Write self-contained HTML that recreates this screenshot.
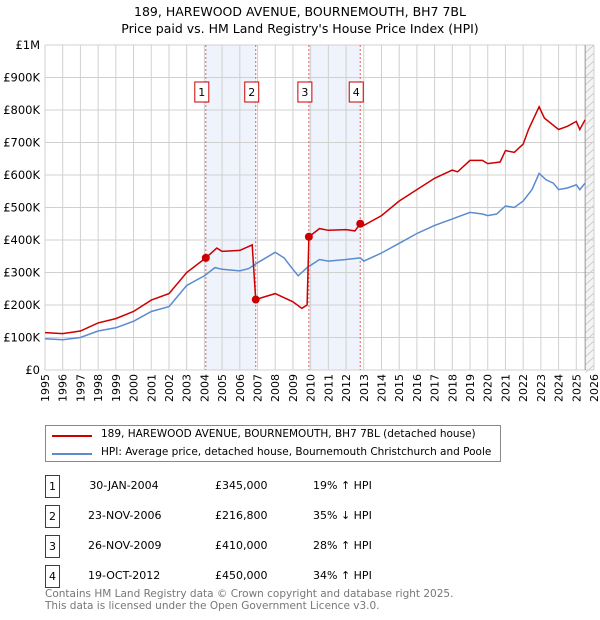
<!DOCTYPE html>
<html><head><meta charset="utf-8"><style>
body{margin:0;background:#fff;font-family:"DejaVu Sans","Liberation Sans",sans-serif;}
#wrap{position:relative;width:600px;height:620px;overflow:hidden}
.t{position:absolute;white-space:nowrap;color:#000}
</style></head><body><div id="wrap">
<div class="t" style="left:0;width:600px;top:3px;text-align:center;font-size:12.5px;line-height:17px">189, HAREWOOD AVENUE, BOURNEMOUTH, BH7 7BL<br>Price paid vs. HM Land Registry's House Price Index (HPI)</div>
<svg id="svg" width="600" height="420" style="position:absolute;left:0;top:0"></svg>
<div style="position:absolute;left:45px;top:425px;width:454px;height:35px;border:1px solid #888;font-size:10.5px">
<div style="position:absolute;left:6px;top:9px;width:40px;height:2px;background:#cc0000"></div>
<div class="t" style="left:55px;top:2px">189, HAREWOOD AVENUE, BOURNEMOUTH, BH7 7BL (detached house)</div>
<div style="position:absolute;left:6px;top:27px;width:40px;height:2px;background:#5b8bd0"></div>
<div class="t" style="left:55px;top:20px">HPI: Average price, detached house, Bournemouth Christchurch and Poole</div>
</div>
<div id="tbl"></div>
<div class="t" style="left:45px;top:589px;font-size:10.5px;line-height:11.5px;color:#777">Contains HM Land Registry data © Crown copyright and database right 2025.<br>This data is licensed under the Open Government Licence v3.0.</div>
</div>
<script>
const saleYears=[2004.08,2006.9,2009.9,2012.8];
const saleValues=[345,216.8,410,450];
const saleDates=["30-JAN-2004","23-NOV-2006","26-NOV-2009","19-OCT-2012"];
const salePrices=["£345,000","£216,800","£410,000","£450,000"];
const saleHpi=["19% ↑ HPI","35% ↓ HPI","28% ↑ HPI","34% ↑ HPI"];
const hpiYears=[1995,1996,1997,1998,1999,2000,2001,2002,2003,2004,2004.6,2005,2006,2006.5,2007,2008,2008.5,2009,2009.3,2009.8,2010.5,2011,2012,2012.8,2013,2014,2015,2016,2017,2018,2019,2019.7,2020,2020.5,2021,2021.5,2022,2022.5,2022.9,2023.3,2023.7,2024,2024.5,2025,2025.2,2025.5];
const hpiValues=[96,93,100,120,130,150,180,195,260,290,315,310,305,312,330,362,345,310,290,315,340,335,340,345,335,360,390,420,445,465,485,480,475,480,505,500,520,555,605,585,575,555,560,570,555,575];
const redYears=[1995,1996,1997,1998,1999,2000,2001,2002,2003,2004.08,2004.7,2005,2006,2006.7,2006.9,2008,2009,2009.5,2009.8,2009.9,2010.5,2011,2012,2012.5,2012.8,2013,2014,2015,2016,2017,2018,2018.3,2019,2019.7,2020,2020.7,2021,2021.5,2022,2022.3,2022.9,2023.2,2024,2024.5,2025,2025.2,2025.5];
const redValues=[115,112,120,145,158,180,215,235,300,345,375,365,368,385,216.8,235,210,190,200,410,435,430,432,428,450,445,475,520,555,590,615,610,645,645,635,640,675,670,695,740,810,775,740,750,765,740,770];
const yTicks=[0,100,200,300,400,500,600,700,800,900,1000];
const yTickLabels=["£0","£100K","£200K","£300K","£400K","£500K","£600K","£700K","£800K","£900K","£1M"];
const X0=45,X1=594,Y0=370,Y1=45;
const x=y=>X0+(y-1995)*(X1-X0)/31;
const yv=v=>Y0-v*(Y0-Y1)/1000;
const NS="http://www.w3.org/2000/svg",svg=document.getElementById('svg');
function mk(t,a){const e=document.createElementNS(NS,t);for(const k in a)e.setAttribute(k,a[k]);svg.appendChild(e);return e;}
for(let i=0;i<4;i+=2){const r=mk('rect',{x:x(saleYears[i]),y:Y1,width:x(saleYears[i+1])-x(saleYears[i]),height:Y0-Y1,fill:'#eef3fc'});

}
const hx=x(2025.5);
const hr=mk('rect',{x:hx,y:Y1,width:X1-hx,height:Y0-Y1,fill:'#f4f4f4'});


for(let yy=Y1;yy<Y0;yy+=8){mk('line',{x1:hx,y1:yy+8,x2:X1,y2:yy,stroke:'#bbb','stroke-width':0.6});}
for(let yr=1995;yr<=2026;yr++){const g=mk('line',{x1:x(yr),y1:Y1,x2:x(yr),y2:Y0,stroke:'#d0d0d0','stroke-width':1});


const t=mk('text',{x:0,y:0,transform:`translate(${x(yr)+4},${Y0+4}) rotate(-90)`,'text-anchor':'end','font-size':11,'font-family':'DejaVu Sans,sans-serif'});t.textContent=yr;

}
yTicks.forEach((v,i)=>{const g=mk('line',{x1:X0,y1:yv(v),x2:X1,y2:yv(v),stroke:'#d0d0d0','stroke-width':1});


const t=mk('text',{x:X0-5,y:yv(v)+4,'text-anchor':'end','font-size':11.5,'font-family':'DejaVu Sans,sans-serif'});t.textContent=yTickLabels[i];

});
mk('line',{x1:hx,y1:Y1,x2:hx,y2:Y0,stroke:'#999','stroke-width':1});
saleYears.forEach((s,i)=>{const l=mk('line',{x1:x(s),y1:Y1,x2:x(s),y2:Y0,stroke:'#e06060','stroke-width':1,'stroke-dasharray':'2,2'});


const bx=x(s)-4;const b=mk('rect',{x:bx-7,y:82,width:14,height:20,fill:'#fff',stroke:'#cc0000','stroke-width':1});


const t=mk('text',{x:bx,y:96,'text-anchor':'middle','font-size':11,'font-family':'DejaVu Sans,sans-serif'});t.textContent=i+1;

});
const pts=(xs,vs)=>xs.map((a,i)=>x(a).toFixed(1)+','+yv(vs[i]).toFixed(1)).join(' ');
const hp=mk('polyline',{points:pts(hpiYears,hpiValues),fill:'none',stroke:'#5b8bd0','stroke-width':1.5});


const rp=mk('polyline',{points:pts(redYears,redValues),fill:'none',stroke:'#cc0000','stroke-width':1.5});


saleYears.forEach((s,i)=>{const d=mk('circle',{cx:x(s),cy:yv(saleValues[i]),r:4,fill:'#cc0000'});

});
const tbl=document.getElementById('tbl');
saleDates.forEach((d,i)=>{const top=476+i*30;
const row=document.createElement('div');


row.innerHTML=`<div style="position:absolute;left:45px;top:${top-1}px;width:13px;height:21px;border:1px solid #cc0000;font-size:11px;text-align:center;line-height:21px">${i+1}</div>
<div class="t" style="left:88px;width:72px;text-align:center;top:${top+3}px;font-size:11px">${d}</div>
<div class="t" style="left:215px;top:${top+3}px;font-size:11px">${salePrices[i]}</div>
<div class="t" style="left:313px;top:${top+3}px;font-size:11px">${saleHpi[i]}</div>`;
tbl.appendChild(row);});
</script></body></html>
